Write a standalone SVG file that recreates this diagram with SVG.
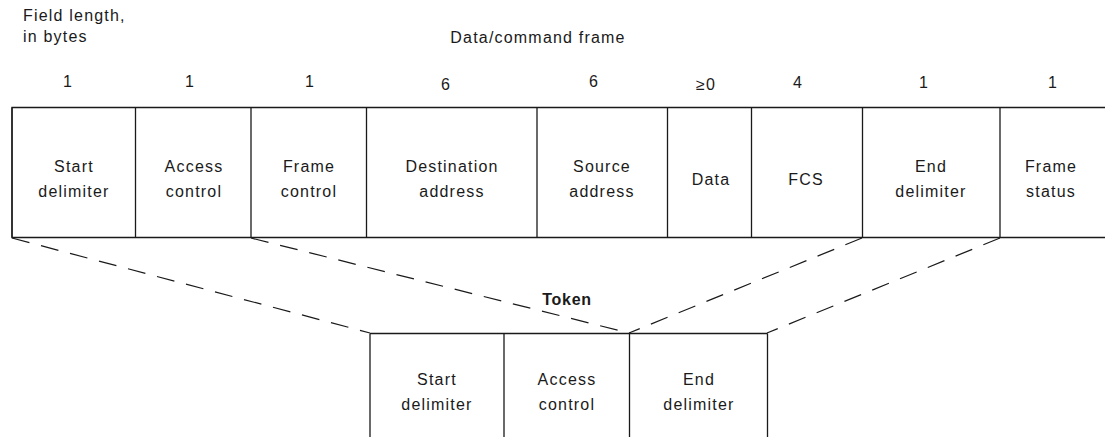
<svg xmlns="http://www.w3.org/2000/svg" width="1105" height="437" viewBox="0 0 1105 437">
<style>
text{font-family:"Liberation Sans",Arial,sans-serif;font-size:16px;fill:#1a1a1a;letter-spacing:1.2px;text-anchor:middle}
.l{text-anchor:start}
.b{font-weight:bold;letter-spacing:0.7px}
.s{stroke:#1a1a1a;stroke-width:1.3;fill:none}
.d{stroke:#1a1a1a;stroke-width:1.2;fill:none;stroke-dasharray:18 12}
</style>
<rect width="1105" height="437" fill="#fff"/>
<g id="header">
<text class="l" x="23" y="21">Field length,</text>
<text class="l" x="23" y="42">in bytes</text>
<text x="538" y="43">Data/command frame</text>
</g>
<g id="lengths">
<text x="68" y="87">1</text>
<text x="190" y="87">1</text>
<text x="310" y="87">1</text>
<text x="446" y="90">6</text>
<text x="594" y="87">6</text>
<text x="706" y="90">≥0</text>
<text x="798" y="88">4</text>
<text x="924" y="88">1</text>
<text x="1053" y="88">1</text>
</g>
<g id="frame-outline">
<path class="s" d="M1105,107.5H12V237.5H1105"/>
</g>
<g id="sd"><path class="s" d="M12,107.5V237.5"/><text x="74" y="172">Start</text><text x="74" y="197">delimiter</text></g>
<g id="ac"><path class="s" d="M135.5,107.5V237.5"/><text x="194" y="172">Access</text><text x="194" y="197">control</text></g>
<g id="fc"><path class="s" d="M251,107.5V237.5"/><text x="309" y="172">Frame</text><text x="309" y="197">control</text></g>
<g id="da"><path class="s" d="M366.5,107.5V237.5"/><text x="452" y="172">Destination</text><text x="452" y="197">address</text></g>
<g id="sa"><path class="s" d="M537,107.5V237.5"/><text x="602" y="172">Source</text><text x="602" y="197">address</text></g>
<g id="data"><path class="s" d="M667.5,107.5V237.5"/><text x="711" y="185">Data</text></g>
<g id="fcs"><path class="s" d="M751.5,107.5V237.5"/><text x="806" y="185">FCS</text></g>
<g id="ed"><path class="s" d="M862.5,107.5V237.5"/><text x="931" y="172">End</text><text x="931" y="197">delimiter</text></g>
<g id="fs"><path class="s" d="M1000,107.5V237.5"/><text x="1051" y="172">Frame</text><text x="1051" y="197">status</text></g>
<g id="connectors">
<path class="d" d="M12,238L370,333"/>
<path class="d" d="M251,238L629,333"/>
<path class="d" d="M862,238L629,333"/>
<path class="d" d="M1000,238L767,333"/>
</g>
<g id="token">
<text class="b" x="567" y="305">Token</text>
<path class="s" d="M370,333.5H767.5"/>
<g id="t-sd"><path class="s" d="M370,333.5V437"/><text x="437" y="385">Start</text><text x="437" y="410">delimiter</text></g>
<g id="t-ac"><path class="s" d="M504,333.5V437"/><text x="567" y="385">Access</text><text x="567" y="410">control</text></g>
<g id="t-ed"><path class="s" d="M629.5,333.5V437"/><text x="699" y="385">End</text><text x="699" y="410">delimiter</text></g>
<path class="s" d="M767.5,333.5V437"/>
</g>
</svg>
